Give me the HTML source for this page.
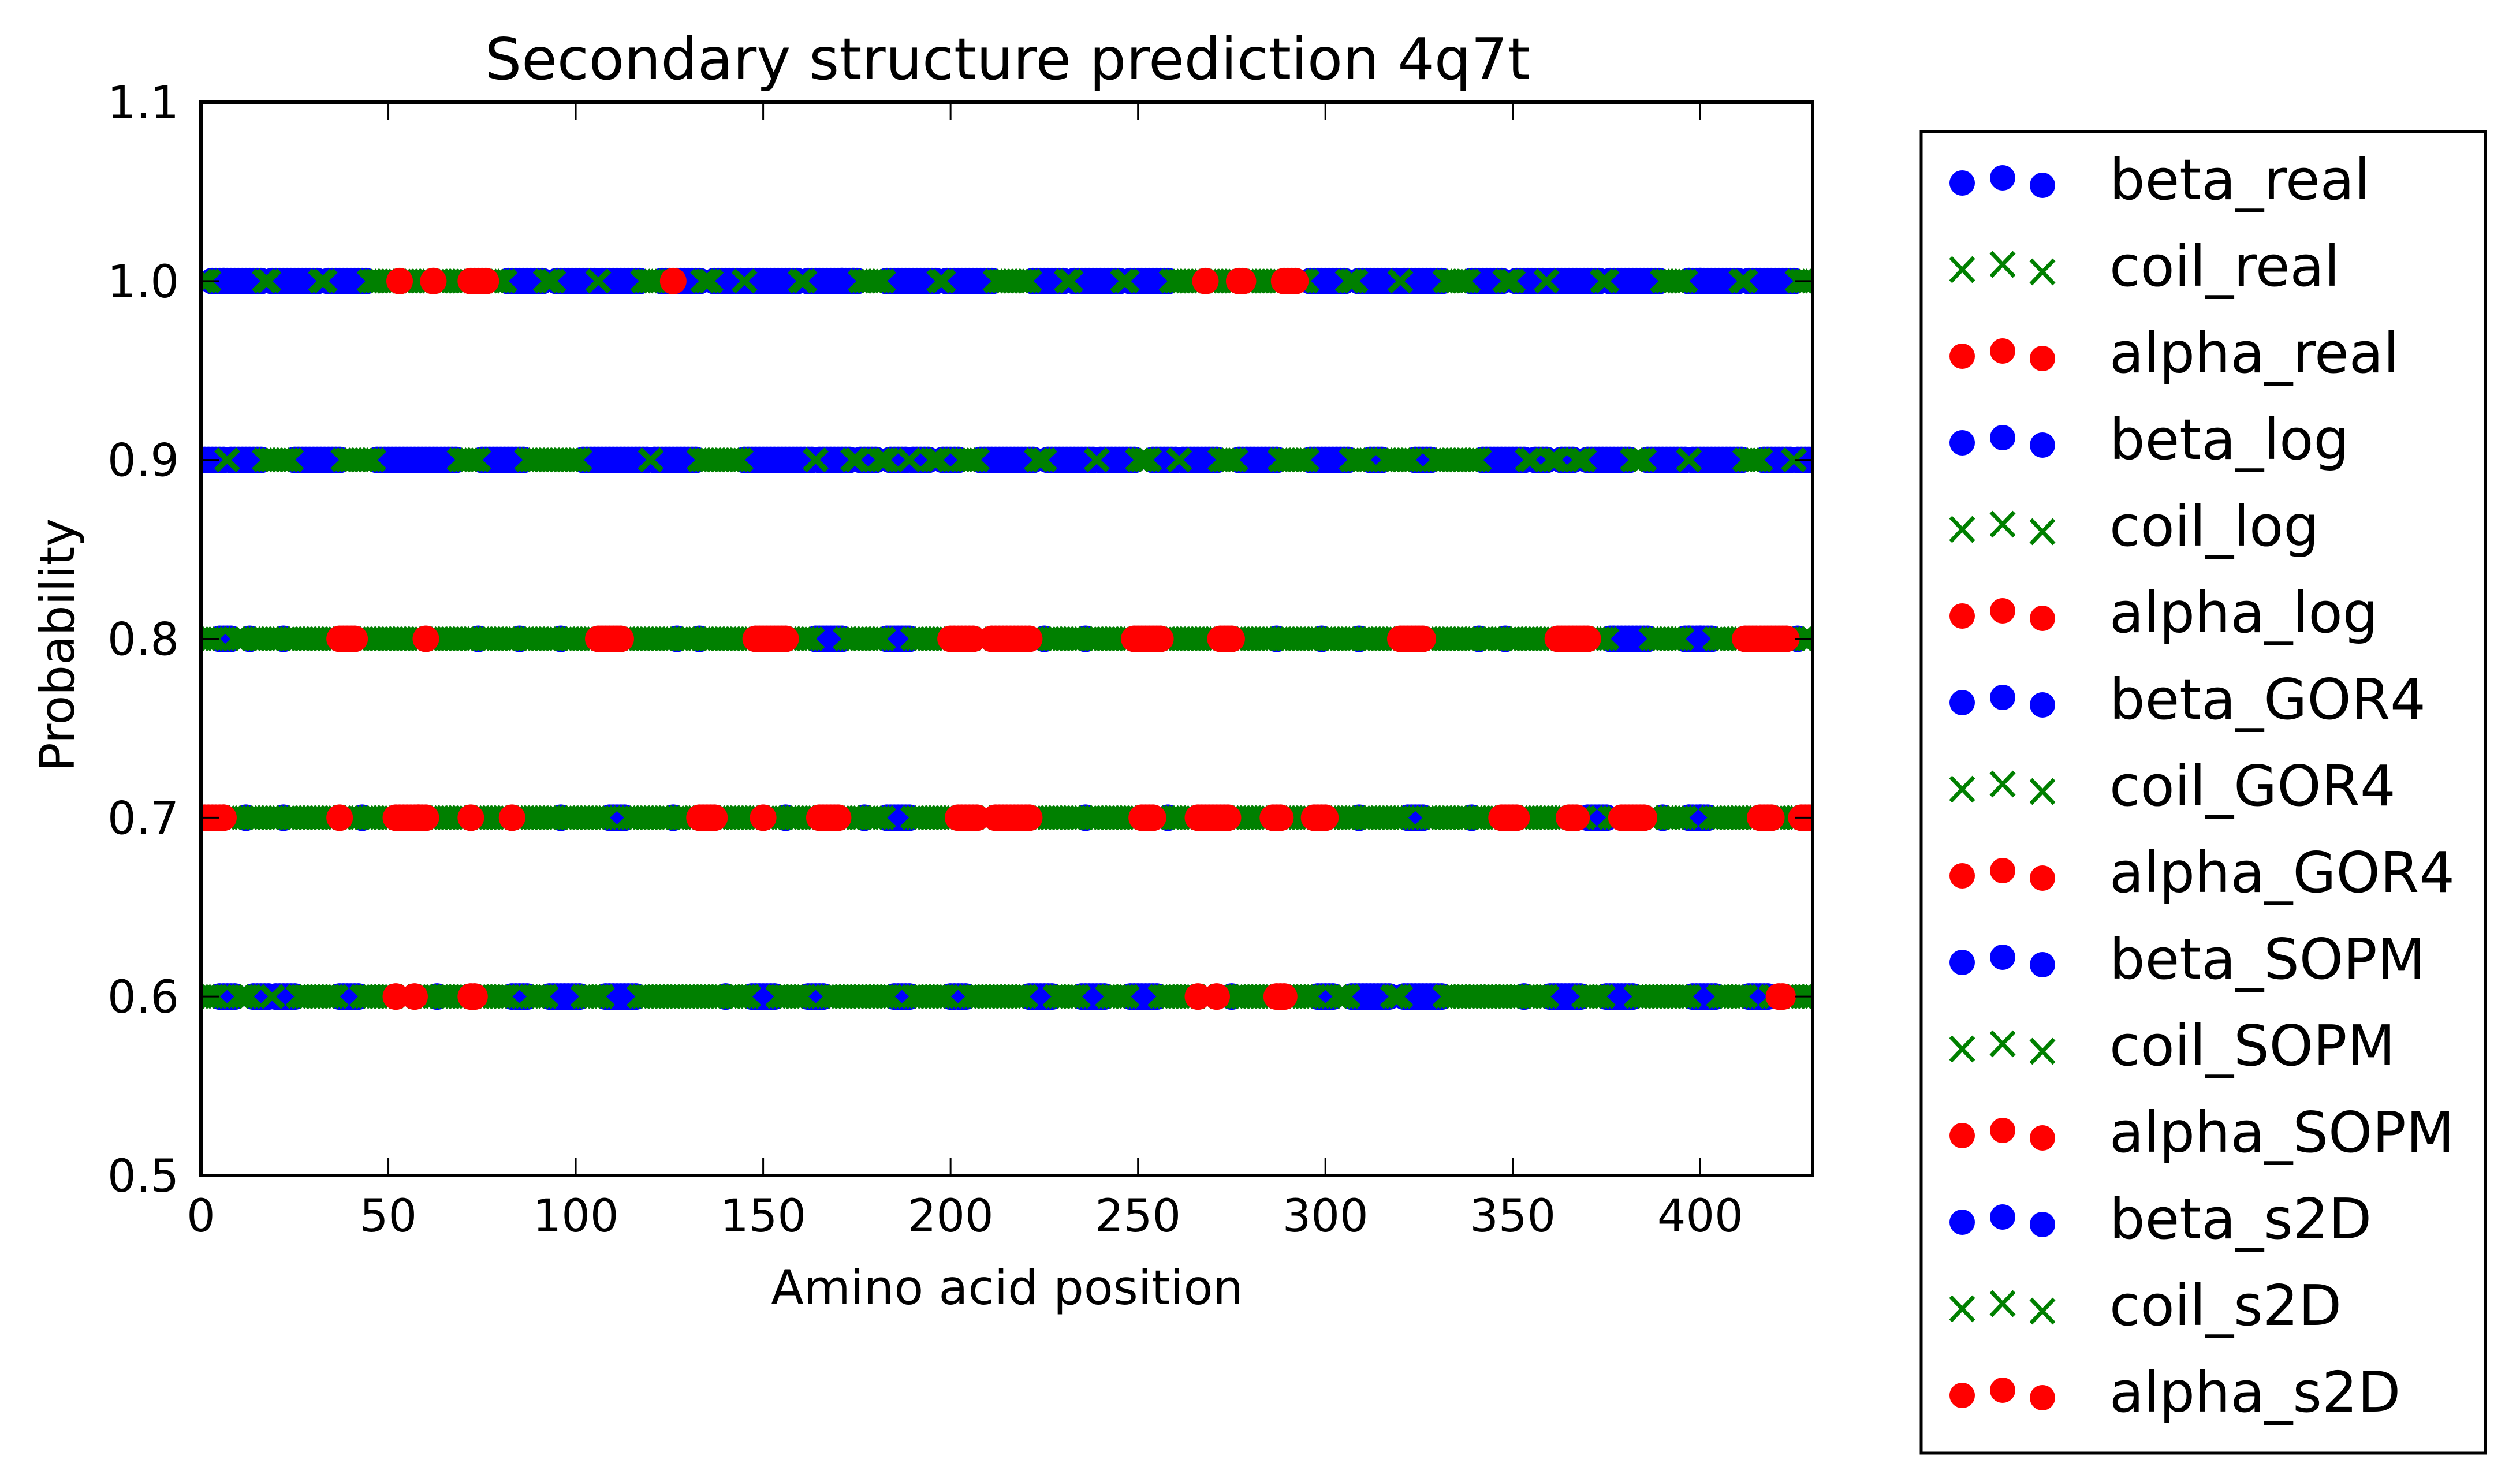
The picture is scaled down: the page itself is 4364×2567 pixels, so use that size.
<!DOCTYPE html>
<html><head><meta charset="utf-8">
<style>
html,body{margin:0;padding:0;background:#fff;}
svg{display:block;font-family:"DejaVu Sans","Liberation Sans",sans-serif;}
</style></head>
<body>
<svg id="chart" width="4364" height="2567" viewBox="0 0 4364 2567" xmlns="http://www.w3.org/2000/svg">
<rect x="0" y="0" width="4364" height="2567" fill="#fff"/>
<defs><clipPath id="plotclip"><rect x="348" y="177" width="2791" height="1859"/></clipPath></defs>
<g id="marks" clip-path="url(#plotclip)"></g>
<g id="axes"></g>
<text x="1745" y="137" font-size="100" text-anchor="middle">Secondary structure prediction 4q7t</text>
<text x="1744" y="2259" font-size="83" text-anchor="middle">Amino acid position</text>
<text x="0" y="0" font-size="83" text-anchor="middle" transform="translate(128,1117) rotate(-90)">Probability</text>
<g id="legend"></g>
</svg>
<script>
// ---- data ----
const xTicks = [0,50,100,150,200,250,300,350,400];
const yTicks = [0.5,0.6,0.7,0.8,0.9,1.0,1.1];
const yTickLabels = ["0.5","0.6","0.7","0.8","0.9","1.0","1.1"];
const nResidues = 431;
const rowNames = ["real","log","GOR4","SOPM","s2D"];
const rowValues = [1.0,0.9,0.8,0.7,0.6];
const rowDefaults = ["B","B","C","C","C"];
const realCoil = [[0,2],[17,18],[32,33],[45,81],[92,94],[106,106],[118,122],[134,136],[145,145],[160,161],[176,182],[197,198],[212,221],[231,232],[246,247],[259,295],[306,308],[320,320],[332,338],[348,350],[359,359],[374,375],[390,396],[411,412],[426,431]];
const realBeta = [];
const realAlpha = [[53,53],[62,62],[72,76],[126,126],[268,268],[277,278],[289,292]];
const logCoil = [[7,7],[17,24],[38,46],[69,74],[87,101],[120,120],[133,144],[164,164],[174,175],[181,183],[189,189],[195,197],[203,207],[223,225],[239,239],[250,253],[261,261],[272,276],[288,295],[307,311],[316,323],[329,341],[354,355],[360,362],[367,369],[382,385],[397,397],[412,416],[425,425]];
const logBeta = [];
const logAlpha = [];
const gorCoil = [];
const gorBeta = [[5,8],[13,13],[22,22],[74,74],[85,85],[96,96],[127,127],[133,133],[164,171],[183,189],[225,225],[236,236],[287,287],[299,299],[309,309],[341,341],[348,348],[376,386],[396,403],[426,426]];
const gorAlpha = [[37,41],[60,60],[106,112],[148,156],[200,206],[211,221],[249,256],[272,275],[320,326],[362,370],[412,423]];
const sopmCoil = [];
const sopmBeta = [[12,12],[22,22],[43,43],[96,96],[109,113],[126,126],[156,156],[177,177],[183,189],[236,236],[258,258],[309,309],[322,326],[339,339],[370,375],[390,390],[397,402]];
const sopmAlpha = [[0,6],[37,37],[52,60],[72,72],[83,83],[133,137],[150,150],[165,170],[202,207],[212,221],[251,254],[266,274],[286,288],[297,300],[347,351],[365,367],[379,385],[416,419],[427,431]];
const s2dCoil = [];
const s2dBeta = [[5,9],[14,18],[20,25],[37,42],[63,63],[83,87],[93,101],[108,116],[140,140],[147,153],[162,166],[185,189],[200,204],[221,227],[235,241],[248,255],[275,275],[298,302],[307,317],[321,331],[353,353],[360,368],[375,382],[398,404],[413,418]];
const s2dAlpha = [[52,52],[57,57],[72,73],[266,266],[271,271],[287,289],[421,422]];
const legendLabels = ["beta_real","coil_real","alpha_real","beta_log","coil_log","alpha_log","beta_GOR4","coil_GOR4","alpha_GOR4","beta_SOPM","coil_SOPM","alpha_SOPM","beta_s2D","coil_s2D","alpha_s2D"];

// ---- layout ----
const NS = "http://www.w3.org/2000/svg";
const L=348, R=3139, T=177, B=2036;
const xMin=0, xMax=430, yMin=0.5, yMax=1.1;
function sx(v){return L+(v-xMin)/(xMax-xMin)*(R-L);}
function sy(v){return B-(v-yMin)/(yMax-yMin)*(B-T);}
const COLORS={B:"#0000ff",C:"#008000",A:"#ff0000"};
function mk(tag,attrs){const e=document.createElementNS(NS,tag);for(const k in attrs)e.setAttribute(k,attrs[k]);return e;}

const rowCoil=[realCoil,logCoil,gorCoil,sopmCoil,s2dCoil];
const rowBeta=[realBeta,logBeta,gorBeta,sopmBeta,s2dBeta];
const rowAlpha=[realAlpha,logAlpha,gorAlpha,sopmAlpha,s2dAlpha];

const marks=document.getElementById("marks");
rowValues.forEach((val,ri)=>{
  const cls=new Array(nResidues).fill(rowDefaults[ri]);
  rowCoil[ri].forEach(([s,e])=>{for(let i=s;i<=e&&i<nResidues;i++)cls[i]="C";});
  rowBeta[ri].forEach(([s,e])=>{for(let i=s;i<=e&&i<nResidues;i++)cls[i]="B";});
  rowAlpha[ri].forEach(([s,e])=>{for(let i=s;i<=e&&i<nResidues;i++)cls[i]="A";});
  const y=sy(val);
  ["B","C","A"].forEach(c=>{
    const g=mk("g",{fill:COLORS[c],stroke:COLORS[c]});
    
    
    let d="";
    for(let i=0;i<nResidues;i++){
      if(cls[i]!==c)continue;
      const x=sx(i);
      if(c==="C"){
        d+=`M${x-19},${y-18}L${x+19},${y+18}M${x-19},${y+18}L${x+19},${y-18}`;
      }else{
        d+=`M${x-23},${y}a23,23 0 1,0 46,0a23,23 0 1,0 -46,0Z`;
      }
    }
    const p=mk("path",{d:d});
    if(c==="C"){p.setAttribute("fill","none");p.setAttribute("stroke-width","10");}
    else{p.setAttribute("stroke","none");}
    
    
    g.appendChild(p);
    marks.appendChild(g);
  });
});

// ---- axes ----
const axes=document.getElementById("axes");
const frame=mk("rect",{x:L,y:T,width:R-L,height:B-T,fill:"none",stroke:"#000","stroke-width":6});


axes.appendChild(frame);
xTicks.forEach(v=>{
  const x=sx(v);
  const t1=mk("line",{x1:x,y1:B,x2:x,y2:B-31,stroke:"#000","stroke-width":3});
  
  
  axes.appendChild(t1);
  const t2=mk("line",{x1:x,y1:T,x2:x,y2:T+31,stroke:"#000","stroke-width":3});
  
  
  axes.appendChild(t2);
  const tx=mk("text",{x:x,y:2133,"font-size":78,"text-anchor":"middle"});
  tx.textContent=String(v);
  
  
  axes.appendChild(tx);
});
yTicks.forEach((v,i)=>{
  const y=sy(v);
  const t1=mk("line",{x1:L,y1:y,x2:L+31,y2:y,stroke:"#000","stroke-width":3});
  
  
  axes.appendChild(t1);
  const t2=mk("line",{x1:R,y1:y,x2:R-31,y2:y,stroke:"#000","stroke-width":3});
  
  
  axes.appendChild(t2);
  const tx=mk("text",{x:310,y:y+28,"font-size":78,"text-anchor":"end"});
  tx.textContent=yTickLabels[i];
  
  
  axes.appendChild(tx);
});

// ---- legend ----
const legend=document.getElementById("legend");
const box=mk("rect",{x:3327,y:228,width:977,height:2289,fill:"#fff",stroke:"#000","stroke-width":5});


legend.appendChild(box);
const mxs=[3398,3468,3537], mdy=[0,-9,4];
legendLabels.forEach((lab,i)=>{
  const y0=317+150*i;
  const kind=i%3;
  const col=kind===0?COLORS.B:kind===1?COLORS.C:COLORS.A;
  const g=mk("g",{});
  
  
  mxs.forEach((mx,j)=>{
    const my=y0+mdy[j];
    let m;
    if(kind===1){
      m=mk("path",{d:`M${mx-20},${my-21}L${mx+20},${my+21}M${mx-20},${my+21}L${mx+20},${my-21}`,stroke:col,"stroke-width":7,fill:"none"});
    }else{
      m=mk("circle",{cx:mx,cy:my,r:22,fill:col});
    }
    
    
    g.appendChild(m);
  });
  const t=mk("text",{x:3653,y:345+150*i,"font-size":97});
  t.textContent=lab;
  
  
  g.appendChild(t);
  legend.appendChild(g);
});
</script>
</body></html>
